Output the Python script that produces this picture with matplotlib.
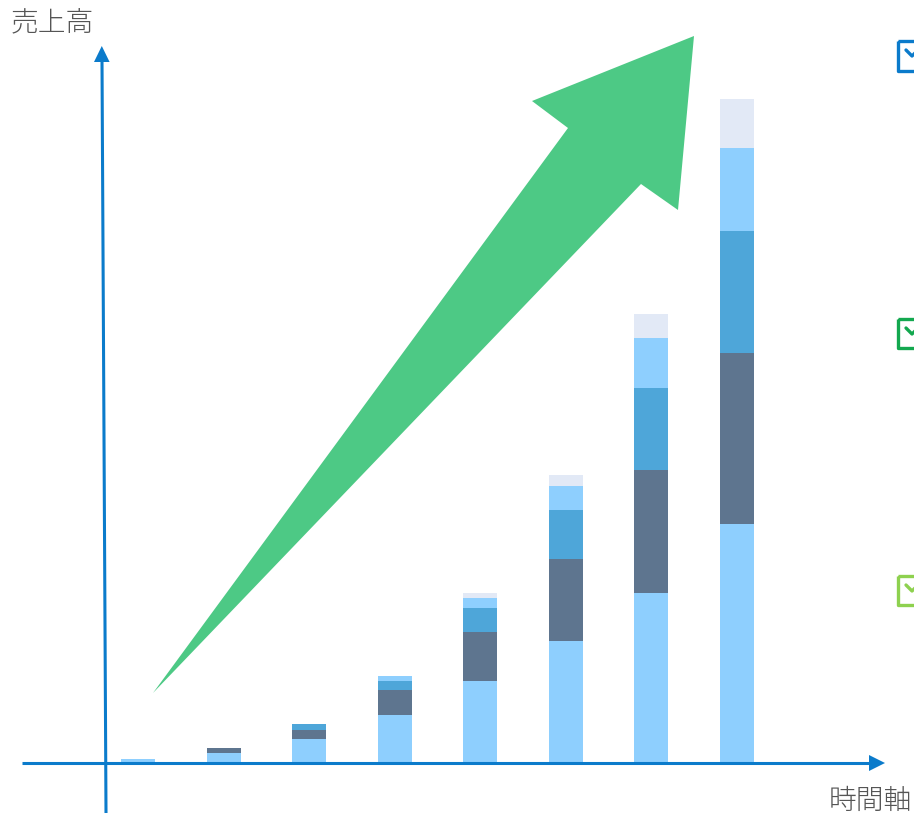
import matplotlib
matplotlib.use("Agg")
import matplotlib.pyplot as plt
from matplotlib.patches import Polygon, Rectangle
import numpy as np

plt.rcParams['font.family'] = ['Noto Sans CJK JP', 'DejaVu Sans']

# ---- data (segment heights, bottom to top) ----
periods = list(range(8))
seg_base = [4, 10, 24, 48, 82, 122, 170, 239]     # light blue (bottom)
seg_dark = [0, 5, 9, 25, 49, 82, 123, 171]        # slate
seg_mid = [0, 0, 6, 9, 24, 49, 82, 122]           # medium blue
seg_light = [0, 0, 0, 5, 10, 24, 50, 83]          # light blue (upper)
seg_pale = [0, 0, 0, 0, 5, 11, 24, 49]            # pale top
y_label = "売上高"
x_label = "時間軸"

series = [seg_base, seg_dark, seg_mid, seg_light, seg_pale]
colors = ["#8ECFFE", "#5E758F", "#4EA6D9", "#8ECFFE", "#E2E9F6"]

W, H = 914, 815
fig = plt.figure(figsize=(W / 100, H / 100), dpi=100)

# main data axes: 1 value unit = 1 px vertically, baseline at y=763 px
base_px = 763
x0_px, step_px = 138, 85.57
ax = fig.add_axes([0, 0, 1, 1])
ax.set_xlim(-x0_px / step_px, (W - x0_px) / step_px)
ax.set_ylim(-(H - base_px), base_px)
ax.axis("off")

bottom = np.zeros(len(periods))
for vals, c in zip(series, colors):
    v = np.array(vals, dtype=float)
    ax.bar(periods, v, bottom=bottom, width=34 / step_px, color=c,
           edgecolor="none", zorder=3)
    bottom += v

# overlay axes in pixel coordinates for decorations
ov = fig.add_axes([0, 0, 1, 1], facecolor="none")
ov.set_xlim(0, W)
ov.set_ylim(H, 0)
ov.axis("off")

axis_c = "#0B7BCB"
# horizontal axis
ov.plot([22, 870], [763, 763], color=axis_c, lw=2.2, solid_capstyle="butt", zorder=5)
ov.add_patch(Polygon([[869, 755], [885, 763], [869, 771]], closed=True,
                     color=axis_c, lw=0, zorder=5))
# vertical axis (slightly tilted)
ov.plot([106, 102], [813, 61], color=axis_c, lw=2.2, solid_capstyle="butt", zorder=5)
ov.add_patch(Polygon([[94, 62], [101.8, 46], [109.6, 62]], closed=True,
                     color=axis_c, lw=0, zorder=5))

# big green arrow
arrow = [[153, 693], [568, 128], [532, 101], [694, 36], [678, 210], [641, 184]]
ov.add_patch(Polygon(arrow, closed=True, color="#4DC985", lw=0, zorder=2))

# labels
ov.text(11, 22, y_label, fontsize=20, color="#555555", va="center", ha="left",
        fontweight="light")
ov.text(912, 801, x_label, fontsize=20, color="#555555", va="center", ha="right",
        fontweight="light")

# checkbox icons cut at the right edge
for (top, bot, c) in [(41, 71, "#0B7BCB"), (319, 348, "#13A84F"), (576, 605, "#8ED14F")]:
    h = bot - top
    ov.add_patch(Rectangle((898, top), h, h, fill=False, edgecolor=c, lw=2.4, zorder=6,
                           joinstyle="round"))
    ov.plot([906, 912, 922], [top + 9, top + 15, top + 5], color=c, lw=2.4, zorder=6,
            solid_capstyle="round")

fig.savefig("out.png", dpi=100)
